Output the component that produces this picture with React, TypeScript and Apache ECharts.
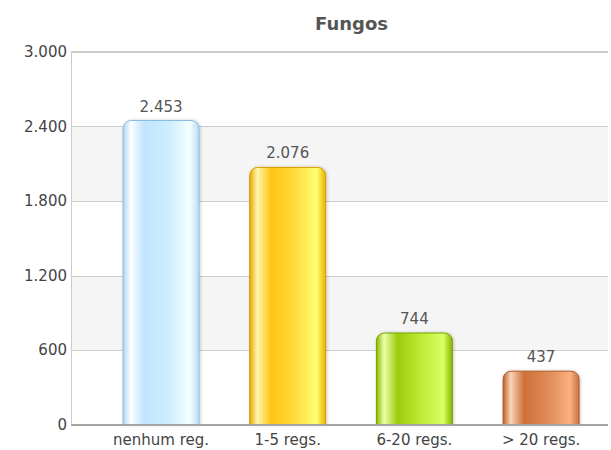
import React, { useEffect, useRef } from "react";
import * as echarts from "echarts";

const title = "Fungos";
const categories = ["nenhum reg.", "1-5 regs.", "6-20 regs.", "> 20 regs."];
const values = [2453, 2076, 744, 437];
const yTicks = { min: 0, max: 3000, interval: 600 };

const barStyles = [
  {
    stops: ["#a8d4f0", "#ffffff", "#c2e4ff", "#cdeeff", "#f2ffff", "#b8dcf4"],
    border: "#8cbde0",
  },
  {
    stops: ["#e8a800", "#fff6b0", "#ffc414", "#ffdc3c", "#ffff74", "#e8b400"],
    border: "#d49c00",
  },
  {
    stops: ["#88b800", "#eaffa8", "#9ccc0c", "#c0ec38", "#d8ff64", "#88b400"],
    border: "#78a400",
  },
  {
    stops: ["#b86028", "#fad4b8", "#cc7038", "#e08c58", "#fab080", "#c87444"],
    border: "#b05a28",
  },
];

const fmt = (n: number) => String(n).replace(/\B(?=(\d{3})+(?!\d))/g, ".");

function grad(stops: string[]) {
  const pos = [0, 0.1, 0.28, 0.6, 0.88, 1];
  return new echarts.graphic.LinearGradient(
    0,
    0,
    1,
    0,
    stops.map((c, i) => ({ offset: pos[i], color: c }))
  );
}

export default function App() {
  const ref = useRef<HTMLDivElement>(null);
  useEffect(() => {
    if (!ref.current) return;
    const chart = echarts.init(ref.current, null, { renderer: "svg" });
    const font = "DejaVu Sans, Verdana, sans-serif";
    chart.setOption({
      animation: false,
      backgroundColor: "#ffffff",
      title: {
        text: title,
        left: 310,
        top: 9,
        textStyle: { fontFamily: font, fontSize: 18, fontWeight: "bold", color: "#555555" },
      },
      graphic: [
        {
          type: "rect",
          right: 0,
          top: 48,
          z: 100,
          shape: { width: 3, height: 382 },
          style: { fill: "#ffffff" },
        },
      ],
      grid: [
        {
          left: 72,
          top: 52,
          bottom: 25,
          right: -300,
          outerBoundsMode: "none",
          containLabel: false,
          show: true,
          backgroundColor: "#ffffff",
          borderColor: "#cccccc",
          borderWidth: 2,
        },
        {
          left: 97.7,
          top: 52,
          bottom: 25,
          right: 6.6,
          outerBoundsMode: "none",
          containLabel: false,
        },
      ],
      xAxis: [
        {
          gridIndex: 0,
          type: "value",
          min: 0,
          max: 1,
          axisLine: { show: true, lineStyle: { color: "#a4a4a4", width: 2 } },
          axisTick: { show: false },
          axisLabel: { show: false },
          splitLine: { show: false },
          z: 5,
        },
        {
          gridIndex: 1,
          type: "category",
          data: categories,
          axisLine: { show: false },
          axisTick: { show: false },
          axisLabel: { margin: 7, color: "#444444", fontSize: 15, fontFamily: font },
        },
      ],
      yAxis: [
        {
          gridIndex: 0,
          type: "value",
          min: yTicks.min,
          max: yTicks.max,
          interval: yTicks.interval,
          axisLine: { show: false },
          axisTick: { show: false },
          axisLabel: {
            margin: 5,
            color: "#444444",
            fontSize: 15,
            fontFamily: font,
            formatter: (v: number) => fmt(v),
          },
          splitLine: { show: true, lineStyle: { color: "#cccccc", width: 1 } },
          splitArea: { show: true, areaStyle: { color: ["#ffffff", "#f5f5f5"] } },
        },
        {
          gridIndex: 1,
          type: "value",
          min: yTicks.min,
          max: yTicks.max,
          interval: yTicks.interval,
          show: false,
        },
      ],
      series: [
        {
          type: "bar",
          xAxisIndex: 1,
          yAxisIndex: 1,
          barWidth: 77,
          data: values.map((v, i) => ({
            value: v,
            itemStyle: {
              color: grad(barStyles[i].stops),
              borderColor: barStyles[i].border,
              borderWidth: 1,
              borderRadius: [8, 8, 0, 0],
              shadowBlur: 3,
              shadowColor: "rgba(0,0,0,0.2)",
              shadowOffsetX: 1,
            },
          })),
          label: {
            show: true,
            position: "top",
            distance: 6,
            color: "#555555",
            fontSize: 15,
            fontFamily: font,
            formatter: (p: any) => fmt(p.value),
          },
        },
      ],
    });
    return () => chart.dispose();
  }, []);
  return (
    <div
      ref={ref}
      style={{ position: "absolute", left: 0, top: 0, width: 611, height: 450 }}
    />
  );
}
